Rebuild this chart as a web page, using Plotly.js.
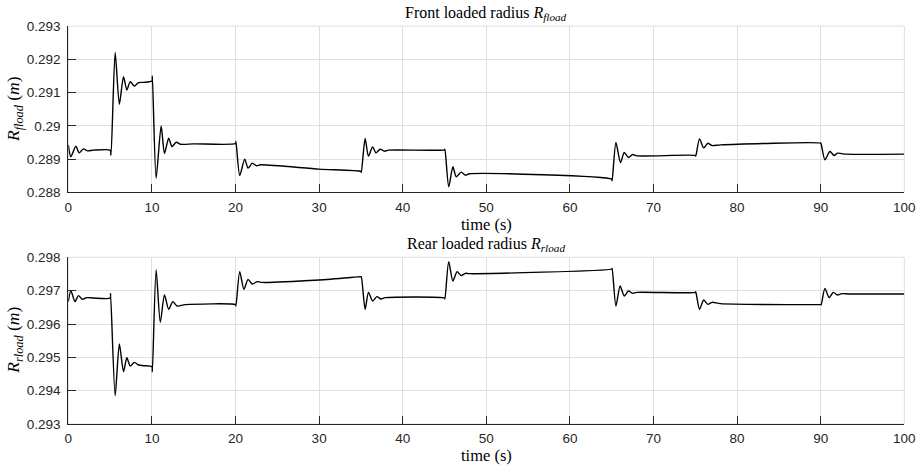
<!DOCTYPE html>
<html>
<head>
<meta charset="utf-8">
<script src="https://cdn.plot.ly/plotly-3.0.1.min.js"></script>
<style>html,body{margin:0;padding:0;background:#fff;}#chart{width:921px;height:467px;}</style>
</head>
<body>
<div id="chart"></div>
<script>
// Front loaded radius (time in s, radius in m)
const frontTime = [0, 0.3, 0.9, 1.3, 1.8, 2.3, 3, 5, 5.1, 5.6, 6.1, 6.6, 7.0, 7.4, 7.9, 8.4, 9, 10, 10.05, 10.5, 11.1, 11.5, 12.0, 12.4, 12.9, 13.4, 15, 20, 20.05, 20.5, 21.1, 21.5, 22.0, 22.5, 23, 30, 35, 35.05, 35.5, 35.9, 36.4, 36.8, 37.3, 37.8, 38.3, 45, 45.05, 45.5, 46.0, 46.4, 47.0, 47.5, 48, 65, 65.05, 65.5, 66.05, 66.5, 67, 67.5, 68, 75, 75.05, 75.5, 76, 76.5, 77, 78, 90, 90.05, 90.5, 91.1, 91.6, 92, 93, 100];
const frontRadius = [0.28942, 0.28907, 0.28939, 0.28919, 0.28931, 0.28925, 0.28927, 0.28927, 0.28912, 0.29221, 0.29065, 0.29148, 0.29108, 0.29133, 0.2912, 0.2913, 0.29131, 0.29135, 0.2915, 0.28843, 0.2900, 0.28917, 0.28963, 0.28938, 0.28951, 0.28945, 0.28946, 0.28947, 0.28953, 0.28851, 0.2890, 0.28873, 0.28888, 0.2888, 0.28883, 0.28870, 0.28863, 0.28860, 0.28962, 0.28909, 0.28937, 0.28919, 0.2893, 0.28924, 0.28927, 0.28928, 0.2893, 0.28817, 0.28877, 0.28847, 0.28861, 0.28852, 0.28856, 0.2884, 0.28835, 0.2895, 0.2889, 0.2892, 0.28905, 0.28914, 0.28910, 0.28911, 0.28909, 0.28961, 0.28934, 0.28948, 0.28941, 0.28943, 0.28948, 0.28946, 0.28898, 0.28923, 0.28911, 0.28918, 0.28915, 0.28915];

// Rear loaded radius
const rearTime = [0, 0.3, 0.8, 1.2, 1.7, 2.2, 3, 5, 5.05, 5.6, 6.1, 6.6, 7.0, 7.4, 7.9, 8.4, 9, 10, 10.05, 10.5, 11.0, 11.5, 12.0, 12.5, 13.0, 14, 20, 20.05, 20.5, 21.0, 21.5, 22, 22.6, 23, 30, 35, 35.05, 35.5, 35.9, 36.4, 36.9, 37.4, 37.9, 45, 45.05, 45.5, 46, 46.5, 47, 47.5, 48, 65, 65.05, 65.5, 66, 66.5, 67, 67.5, 68, 75, 75.05, 75.5, 76, 76.5, 77, 78, 90, 90.05, 90.5, 91, 91.5, 92, 92.5, 93.5, 100];
const rearRadius = [0.29667, 0.2970, 0.29667, 0.29685, 0.29674, 0.29679, 0.29678, 0.29678, 0.29692, 0.29385, 0.2954, 0.29457, 0.29499, 0.29474, 0.29485, 0.29477, 0.29475, 0.29472, 0.29457, 0.29762, 0.29605, 0.29687, 0.29644, 0.29667, 0.29654, 0.29658, 0.29658, 0.29654, 0.29757, 0.29704, 0.29734, 0.2972, 0.29727, 0.29725, 0.29732, 0.29742, 0.29742, 0.29644, 0.29695, 0.29669, 0.29682, 0.29675, 0.29679, 0.29678, 0.29675, 0.29787, 0.29729, 0.29757, 0.29745, 0.29752, 0.29751, 0.29765, 0.29767, 0.29654, 0.29714, 0.29684, 0.29699, 0.29692, 0.29695, 0.29695, 0.29697, 0.29644, 0.29672, 0.29659, 0.29665, 0.29661, 0.29658, 0.29658, 0.29707, 0.29679, 0.29695, 0.29687, 0.29691, 0.2969, 0.2969];

const xTicks = [0, 10, 20, 30, 40, 50, 60, 70, 80, 90, 100];
const frontTicks = [0.288, 0.289, 0.290, 0.291, 0.292, 0.293];
const frontTickText = ['0.288', '0.289', '0.29', '0.291', '0.292', '0.293'];
const rearTicks = [0.293, 0.294, 0.295, 0.296, 0.297, 0.298];
const rearTickText = ['0.293', '0.294', '0.295', '0.296', '0.297', '0.298'];

const frontTitle = 'Front loaded radius <i>R</i><sub><i>fload</i></sub>';
const rearTitle = 'Rear loaded radius <i>R</i><sub><i>rload</i></sub>';
const frontYLabel = '<i>R</i><sub><i>fload</i></sub> (<i>m</i>)';
const rearYLabel = '<i>R</i><sub><i>rload</i></sub> (<i>m</i>)';
const xLabel = 'time (s)';

const axisColor = '#262626';
const gridColor = '#dfdfdf';
const tickFont = {family: 'Liberation Sans, Arial, sans-serif', size: 13.5, color: axisColor};
const serifFamily = 'Liberation Serif, Times New Roman, serif';
const titleFont = {family: serifFamily, size: 16, color: '#000'};
const xLabelFont = {family: serifFamily, size: 16.5, color: '#000'};
const yLabelFont = {family: serifFamily, size: 17.5, color: '#000'};

const traces = [
  {x: frontTime, y: frontRadius, xaxis: 'x', yaxis: 'y', type: 'scatter', mode: 'lines',
   line: {color: '#000', width: 1.4, shape: 'spline', smoothing: 0.7}, hoverinfo: 'skip'},
  {x: rearTime, y: rearRadius, xaxis: 'x2', yaxis: 'y2', type: 'scatter', mode: 'lines',
   line: {color: '#000', width: 1.4, shape: 'spline', smoothing: 0.7}, hoverinfo: 'skip'}
];

function xAxis(anchor) {
  return {domain: [0.0742, 0.9819], anchor: anchor, range: [0, 100], tickvals: xTicks,
    ticks: 'inside', ticklen: 8, tickcolor: axisColor, tickwidth: 1,
    showline: true, linecolor: axisColor, linewidth: 1,
    showgrid: true, gridcolor: gridColor, gridwidth: 1, zeroline: false,
    tickfont: tickFont, ticklabelstandoff: 2, automargin: false, fixedrange: true};
}
function yAxis(anchor, dom, rng, tv, tt) {
  return {domain: dom, anchor: anchor, range: rng, tickvals: tv, ticktext: tt,
    ticks: 'inside', ticklen: 8, tickcolor: axisColor, tickwidth: 1,
    showline: true, linecolor: axisColor, linewidth: 1,
    showgrid: true, gridcolor: gridColor, gridwidth: 1, zeroline: false,
    tickfont: tickFont, ticklabelstandoff: 4, automargin: false, fixedrange: true};
}

const layout = {
  width: 921, height: 467,
  margin: {l: 0, r: 0, t: 0, b: 0},
  paper_bgcolor: '#fff', plot_bgcolor: '#fff',
  showlegend: false,
  xaxis: xAxis('y'),
  yaxis: yAxis('x', [0.588, 0.944], [0.288, 0.293], frontTicks, frontTickText),
  xaxis2: xAxis('y2'),
  yaxis2: yAxis('x2', [0.092, 0.449], [0.293, 0.298], rearTicks, rearTickText),
  shapes: [
    {type: 'rect', xref: 'x domain', yref: 'y domain', x0: 0, x1: 1, y0: 0, y1: 1,
     line: {color: gridColor, width: 1}, layer: 'below'},
    {type: 'rect', xref: 'x2 domain', yref: 'y2 domain', x0: 0, x1: 1, y0: 0, y1: 1,
     line: {color: gridColor, width: 1}, layer: 'below'}
  ],
  annotations: [
    {text: frontTitle, xref: 'paper', yref: 'paper', x: 0.528, y: 0.972, showarrow: false, font: titleFont, xanchor: 'center', yanchor: 'middle'},
    {text: rearTitle, xref: 'paper', yref: 'paper', x: 0.528, y: 0.4754, showarrow: false, font: titleFont, xanchor: 'center', yanchor: 'middle'},
    {text: xLabel, xref: 'paper', yref: 'paper', x: 0.528, y: 0.5203, showarrow: false, font: xLabelFont, xanchor: 'center', yanchor: 'middle'},
    {text: xLabel, xref: 'paper', yref: 'paper', x: 0.528, y: 0.0236, showarrow: false, font: xLabelFont, xanchor: 'center', yanchor: 'middle'},
    {text: frontYLabel, xref: 'paper', yref: 'paper', x: 0.0163, y: 0.7666, showarrow: false, font: yLabelFont, textangle: -90, xanchor: 'center', yanchor: 'middle'},
    {text: rearYLabel, xref: 'paper', yref: 'paper', x: 0.0163, y: 0.2705, showarrow: false, font: yLabelFont, textangle: -90, xanchor: 'center', yanchor: 'middle'}
  ]
};

Plotly.newPlot('chart', traces, layout, {displayModeBar: false, staticPlot: true});
</script>
</body>
</html>
